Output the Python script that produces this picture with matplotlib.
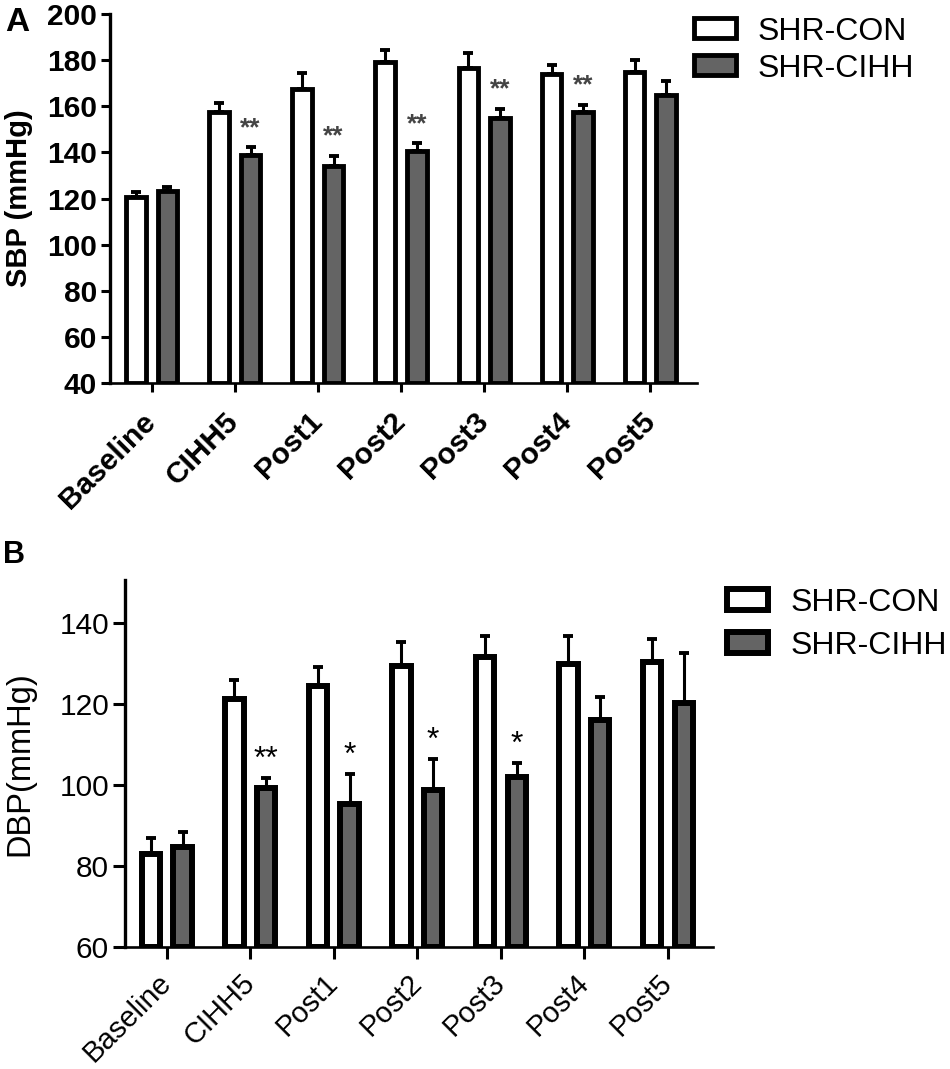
import matplotlib
matplotlib.use("Agg")
import matplotlib.pyplot as plt
import numpy as np

plt.rcParams['font.family'] = ['Liberation Sans', 'DejaVu Sans']

categories = ['Baseline', 'CIHH5', 'Post1', 'Post2', 'Post3', 'Post4', 'Post5']
series_names = ['SHR-CON', 'SHR-CIHH']

sbp_con = [120.5, 157.6, 167.5, 179.3, 176.7, 174.0, 174.8]
sbp_con_sem = [2.5, 3.9, 7.0, 5.1, 6.3, 3.9, 5.2]
sbp_cihh = [123.4, 138.7, 134.2, 140.6, 155.0, 157.6, 164.9]
sbp_cihh_sem = [1.4, 3.5, 4.4, 3.3, 3.7, 2.9, 6.1]
sbp_stars = ['', '**', '**', '**', '**', '**', '']

dbp_con = [82.9, 121.2, 124.3, 129.4, 131.4, 129.8, 130.4]
dbp_con_sem = [4.1, 4.6, 4.7, 5.7, 5.3, 6.9, 5.5]
dbp_cihh = [84.6, 99.3, 95.3, 98.8, 101.9, 116.1, 120.2]
dbp_cihh_sem = [3.8, 2.3, 7.4, 7.6, 3.5, 5.6, 12.4]
dbp_stars = ['', '**', '*', '*', '*', '', '']

GRAY = '#646464'

fig = plt.figure(figsize=(9.5, 10.69), dpi=100)
axA = fig.add_axes([0.1158, 0.6417, 0.6179, 0.3452])
axB = fig.add_axes([0.1316, 0.1141, 0.6189, 0.3433])


def panel(ax, con, con_sem, cihh, cihh_sem, stars, ylim, yticks, ylabel,
          bold, lw, width, tick_len, pad, star_color, star_size, star_off,
          leg_anchor, leg_spacing, xmax, tick_fs, xlab_fs, ylab_fs):
    x = np.arange(len(categories))
    off = 0.19
    weight = 'bold' if bold else 'normal'
    b1 = ax.bar(x - off, np.array(con) - ylim[0], width, bottom=ylim[0],
                color='white', edgecolor='black', linewidth=lw, zorder=3,
                label=series_names[0])
    b2 = ax.bar(x + off, np.array(cihh) - ylim[0], width, bottom=ylim[0],
                color=GRAY, edgecolor='black', linewidth=lw, zorder=3,
                label=series_names[1])
    for xs, m, e in ((x - off, con, con_sem), (x + off, cihh, cihh_sem)):
        ax.errorbar(xs, m, yerr=[np.zeros(len(m)), e], fmt='none',
                    ecolor='black', elinewidth=2.2, capsize=3.6,
                    capthick=2.8, zorder=2)
    for i, s in enumerate(stars):
        if s:
            ax.annotate(s, (x[i] + off, cihh[i] + cihh_sem[i]),
                        xytext=(0, star_off), textcoords='offset points',
                        ha='center', va='center', fontsize=star_size,
                        color=star_color, fontweight=weight)
    ax.set_xlim(-0.5, xmax)
    ax.set_ylim(*ylim)
    ax.set_yticks(yticks)
    ax.set_xticks(x)
    ax.set_xticklabels(categories, rotation=45, ha='right', va='center',
                       rotation_mode='anchor', fontsize=xlab_fs,
                       fontweight=weight)
    for lab in ax.get_yticklabels():
        lab.set_fontsize(tick_fs)
        lab.set_fontweight(weight)
    ax.tick_params(axis='x', length=tick_len, width=2.2, pad=pad)
    ax.tick_params(axis='y', length=tick_len, width=2.2, pad=3)
    for sp in ('top', 'right'):
        ax.spines[sp].set_visible(False)
    ax.spines['left'].set_linewidth(2.4)
    ax.spines['bottom'].set_linewidth(1.9)
    ax.set_ylabel(ylabel, fontsize=ylab_fs, fontweight=weight)
    ax.legend(handles=[b1, b2], loc='upper left', bbox_to_anchor=leg_anchor,
              bbox_transform=fig.transFigure, frameon=False, fontsize=23,
              handlelength=1.3, handleheight=0.6, handletextpad=0.7,
              labelspacing=leg_spacing, borderpad=0, borderaxespad=0)


panel(axA, sbp_con, sbp_con_sem, sbp_cihh, sbp_cihh_sem, sbp_stars,
      (40, 200), np.arange(40, 201, 20), 'SBP (mmHg)', True, 3.5, 0.235,
      6.5, 18, '#444444', 19, 14, (0.7305, 0.9845), 0.22, 6.56,
      21.5, 21.5, 21)
axA.yaxis.set_label_coords(-0.132, 0.5)

panel(axB, dbp_con, dbp_con_sem, dbp_cihh, dbp_cihh_sem, dbp_stars,
      (60, 150.5), np.arange(60, 141, 20), 'DBP(mmHg)', False, 4.3, 0.22,
      8.5, 14, 'black', 23, 13, (0.765, 0.4503), 0.41, 6.54,
      21.5, 21, 23.5)
axB.yaxis.set_label_coords(-0.153, 0.5)

fig.text(0.005, 0.993, 'A', fontsize=24, fontweight='bold', va='top', ha='left')
fig.text(0.003, 0.495, 'B', fontsize=22, fontweight='bold', va='top', ha='left')

fig.savefig('out.png', dpi=100)
